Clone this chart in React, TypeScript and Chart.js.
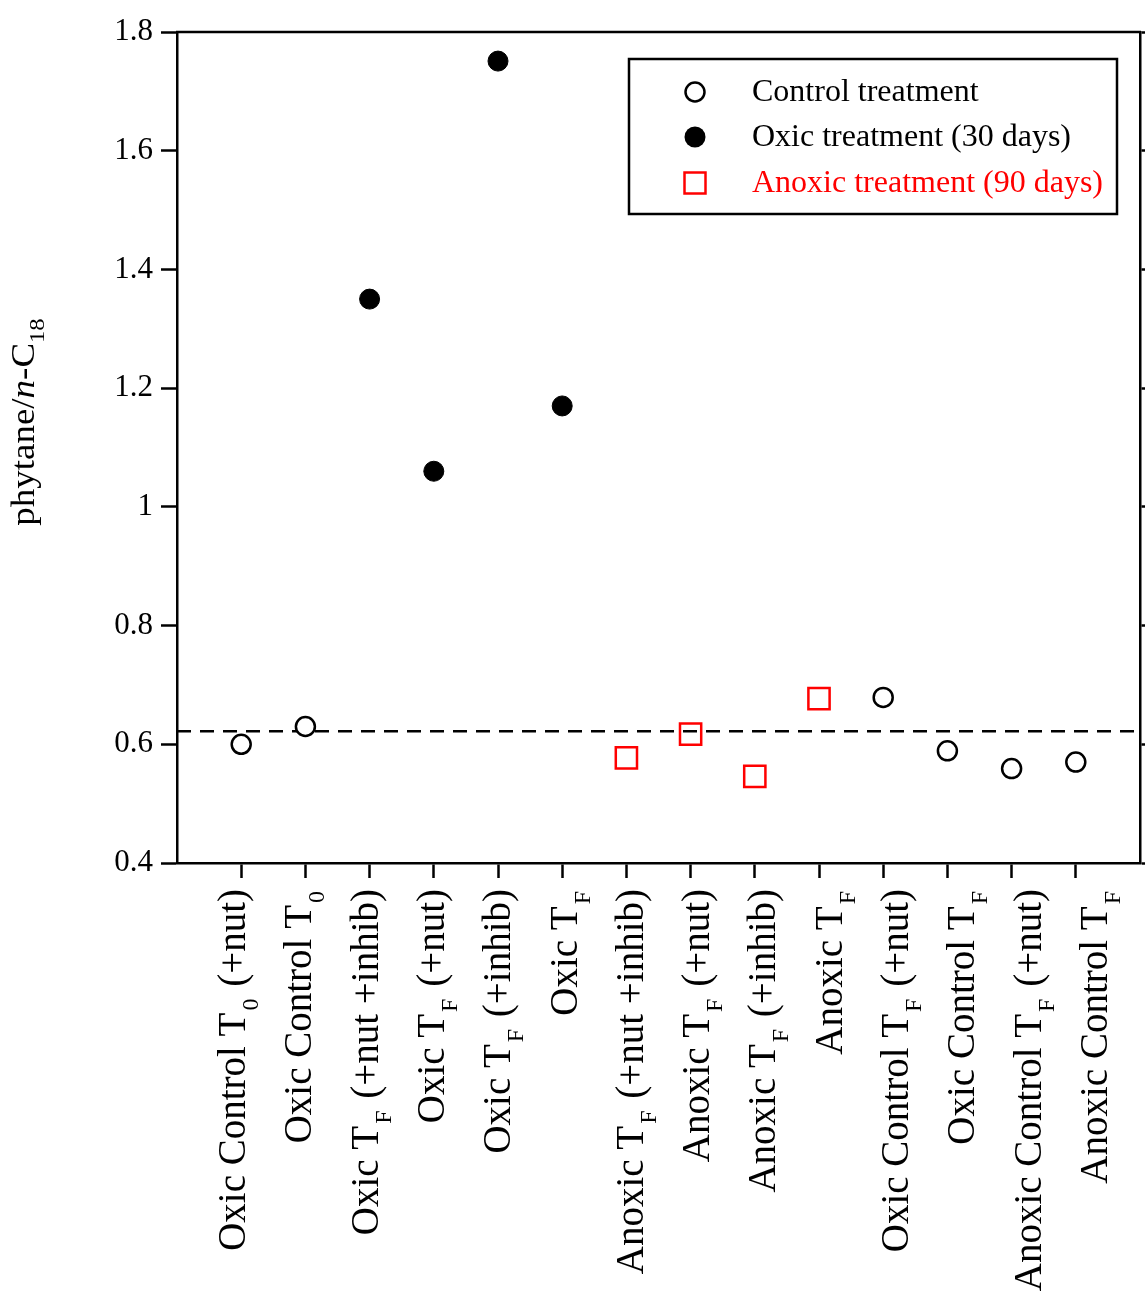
import { useEffect, useRef } from 'react';
import { Chart, registerables } from 'chart.js';

Chart.register(...registerables);

const FONT = '"Liberation Serif", "Times New Roman", Times, serif';

// Category labels ("_X" marks a one-character subscript)
const categories = [
  'Oxic Control T_0 (+nut)',
  'Oxic Control T_0',
  'Oxic T_F (+nut +inhib)',
  'Oxic T_F (+nut)',
  'Oxic T_F (+inhib)',
  'Oxic T_F',
  'Anoxic T_F (+nut +inhib)',
  'Anoxic T_F (+nut)',
  'Anoxic T_F (+inhib)',
  'Anoxic T_F',
  'Oxic Control T_F (+nut)',
  'Oxic Control T_F',
  'Anoxic Control T_F (+nut)',
  'Anoxic Control T_F',
];

// phytane / n-C18 ratio per category
const ratios = [0.600, 0.630, 1.350, 1.060, 1.751, 1.170, 0.577, 0.617, 0.546, 0.677, 0.679, 0.589, 0.559, 0.570];

// treatment group per category
const groups = [
  'control', 'control', 'oxic', 'oxic', 'oxic', 'oxic',
  'anoxic', 'anoxic', 'anoxic', 'anoxic',
  'control', 'control', 'control', 'control',
];

const legendLabels = ['Control treatment', 'Oxic treatment (30 days)', 'Anoxic treatment (90 days)'];

const referenceLevel = 0.622;

const yTickValues = [0.4, 0.6, 0.8, 1.0, 1.2, 1.4, 1.6, 1.8];
const yTickLabels = ['0.4', '0.6', '0.8', '1', '1.2', '1.4', '1.6', '1.8'];

const RED = '#ff0000';

function pointsFor(group: string) {
  const out: { x: number; y: number }[] = [];
  ratios.forEach((v, i) => {
    if (groups[i] === group) out.push({ x: i + 1, y: v });
  });
  return out;
}

function parseLabel(s: string) {
  const parts = s.split(/_(.)/);
  return parts.map((t, i) => ({ text: t, sub: i % 2 === 1 }));
}

const customDraw = {
  id: 'customDraw',
  beforeDraw(chart: any) {
    const { ctx, width, height } = chart;
    ctx.save();
    ctx.fillStyle = '#ffffff';
    ctx.fillRect(0, 0, width, height);
    ctx.restore();
  },
  afterDraw(chart: any) {
    const { ctx, chartArea, scales } = chart;
    const xs = scales.x;
    ctx.save();

    // top frame line
    ctx.strokeStyle = '#000';
    ctx.lineWidth = 2.5;
    ctx.beginPath();
    ctx.moveTo(chartArea.left - 1, chartArea.top);
    ctx.lineTo(chartArea.right + 1, chartArea.top);
    ctx.stroke();

    // x category labels (rotated, with subscripts)
    const mainFont = `39px ${FONT}`;
    const subFont = `24px ${FONT}`;
    ctx.fillStyle = '#000';
    ctx.textBaseline = 'alphabetic';
    ctx.textAlign = 'left';
    categories.forEach((label, i) => {
      const segs = parseLabel(label);
      let total = 0;
      const widths = segs.map((sg) => {
        ctx.font = sg.sub ? subFont : mainFont;
        const w = ctx.measureText(sg.text).width + (sg.sub ? 4 : 0);
        total += w;
        return w;
      });
      const px = xs.getPixelForValue(i + 1);
      // labels in the original drift slightly right of their ticks
      const drift = i * 2.08;
      ctx.save();
      ctx.translate(px + 4 + drift, chartArea.bottom + 26);
      ctx.rotate(-Math.PI / 2);
      let cx = -total;
      segs.forEach((sg, k) => {
        ctx.font = sg.sub ? subFont : mainFont;
        ctx.fillText(sg.text, cx + (sg.sub ? 2 : 0), sg.sub ? 13 : 0);
        cx += widths[k];
      });
      ctx.restore();
    });

    // y axis title: phytane/n-C18
    const tMain = `33px ${FONT}`;
    const tItal = `italic 33px ${FONT}`;
    const tSub = `22px ${FONT}`;
    const titleSegs = [
      { text: 'phytane/', font: tMain, dy: 0 },
      { text: 'n', font: tItal, dy: 0 },
      { text: '-C', font: tMain, dy: 0 },
      { text: '18', font: tSub, dy: 10 },
    ];
    let tTotal = 0;
    const tW = titleSegs.map((sg) => {
      ctx.font = sg.font;
      const w = ctx.measureText(sg.text).width;
      tTotal += w;
      return w;
    });
    ctx.save();
    ctx.translate(34, 422);
    ctx.rotate(-Math.PI / 2);
    ctx.scale(1.12, 1);
    let tx = -tTotal / 2;
    titleSegs.forEach((sg, k) => {
      ctx.font = sg.font;
      ctx.fillText(sg.text, tx, sg.dy);
      tx += tW[k];
    });
    ctx.restore();

    // legend box
    const bx = chartArea.right - 511;
    const by = chartArea.top + 27;
    const bw = 488;
    const bh = 155;
    ctx.fillStyle = '#fff';
    ctx.fillRect(bx, by, bw, bh);
    ctx.strokeStyle = '#000';
    ctx.lineWidth = 2.5;
    ctx.strokeRect(bx, by, bw, bh);

    const mx = bx + 66;
    const txx = bx + 123;
    const rows = [by + 33, by + 78, by + 124];
    ctx.font = `32px ${FONT}`;
    ctx.textBaseline = 'middle';
    // row 1: open circle
    ctx.beginPath();
    ctx.arc(mx, rows[0], 9.5, 0, Math.PI * 2);
    ctx.fillStyle = '#fff';
    ctx.fill();
    ctx.lineWidth = 2.5;
    ctx.strokeStyle = '#000';
    ctx.stroke();
    ctx.fillStyle = '#000';
    ctx.fillText(legendLabels[0], txx, rows[0] + 1);
    // row 2: filled circle
    ctx.beginPath();
    ctx.arc(mx, rows[1], 10.5, 0, Math.PI * 2);
    ctx.fillStyle = '#000';
    ctx.fill();
    ctx.fillText(legendLabels[1], txx, rows[1] + 1);
    // row 3: red square
    ctx.strokeStyle = RED;
    ctx.lineWidth = 2.5;
    ctx.strokeRect(mx - 10.5, rows[2] - 10.5, 21, 21);
    ctx.fillStyle = RED;
    ctx.fillText(legendLabels[2], txx, rows[2] + 1);

    ctx.restore();
  },
};

export default function App() {
  const ref = useRef<HTMLCanvasElement | null>(null);

  useEffect(() => {
    if (!ref.current) return;
    const chart = new Chart(ref.current, {
      type: 'scatter',
      data: {
        datasets: [
          {
            label: legendLabels[0],
            data: pointsFor('control'),
            pointStyle: 'circle',
            pointRadius: 9.5,
            borderWidth: 2.5,
            borderColor: '#000',
            backgroundColor: '#fff',
            order: 0,
          },
          {
            label: legendLabels[1],
            data: pointsFor('oxic'),
            pointStyle: 'circle',
            pointRadius: 10,
            borderWidth: 1,
            borderColor: '#000',
            backgroundColor: '#000',
            order: 0,
          },
          {
            label: legendLabels[2],
            data: pointsFor('anoxic'),
            pointStyle: 'rect',
            pointRadius: 15,
            borderWidth: 2.5,
            borderColor: RED,
            backgroundColor: 'rgba(255,255,255,0)',
            order: 0,
          },
          {
            label: 'reference',
            data: [
              { x: 0, y: referenceLevel },
              { x: categories.length + 1, y: referenceLevel },
            ],
            showLine: true,
            borderColor: '#000',
            borderWidth: 2.5,
            borderDash: [14, 9],
            pointRadius: 0,
            order: 10,
          } as any,
        ],
      },
      options: {
        responsive: false,
        animation: false,
        devicePixelRatio: 1,
        layout: { autoPadding: false, padding: { top: 32, left: 0, right: 0, bottom: 0 } },
        plugins: {
          legend: { display: false },
          tooltip: { enabled: false },
        },
        elements: { point: { hoverRadius: 10 } },
        scales: {
          x: {
            type: 'linear',
            position: 'bottom',
            min: 0,
            max: categories.length + 1,
            afterBuildTicks: (s: any) => {
              s.ticks = categories.map((_, i) => ({ value: i + 1 }));
            },
            afterFit: (s: any) => {
              s.height = 437;
            },
            ticks: { display: false },
            grid: {
              drawOnChartArea: false,
              drawTicks: true,
              tickLength: 15,
              tickWidth: 2.5,
              tickColor: '#000',
            },
            border: { display: true, color: '#000', width: 2.5 },
          },
          y: {
            type: 'linear',
            position: 'left',
            min: 0.4,
            max: 1.8,
            afterBuildTicks: (s: any) => {
              s.ticks = yTickValues.map((v) => ({ value: v }));
            },
            afterFit: (s: any) => {
              s.width = 177;
            },
            ticks: {
              color: '#000',
              font: { family: FONT, size: 31 },
              padding: 8,
              callback: (_v: any, i: number) => yTickLabels[i],
            },
            grid: {
              drawOnChartArea: false,
              drawTicks: true,
              tickLength: 16,
              tickWidth: 2.5,
              tickColor: '#000',
            },
            border: { display: true, color: '#000', width: 2.5 },
          },
          y2: {
            type: 'linear',
            position: 'right',
            min: 0.4,
            max: 1.8,
            afterBuildTicks: (s: any) => {
              s.ticks = yTickValues.map((v) => ({ value: v }));
            },
            afterFit: (s: any) => {
              s.width = 5;
            },
            ticks: { display: false },
            grid: {
              drawOnChartArea: false,
              drawTicks: true,
              tickLength: 10,
              tickWidth: 2.5,
              tickColor: '#000',
            },
            border: { display: true, color: '#000', width: 2.5 },
          },
        },
      } as any,
      plugins: [customDraw],
    });
    return () => chart.destroy();
  }, []);

  return (
    <div style={{ position: 'absolute', left: 0, top: 0, width: 1145, height: 1300, background: '#fff' }}>
      <canvas ref={ref} width={1145} height={1300} style={{ display: 'block', width: 1145, height: 1300 }} />
    </div>
  );
}
